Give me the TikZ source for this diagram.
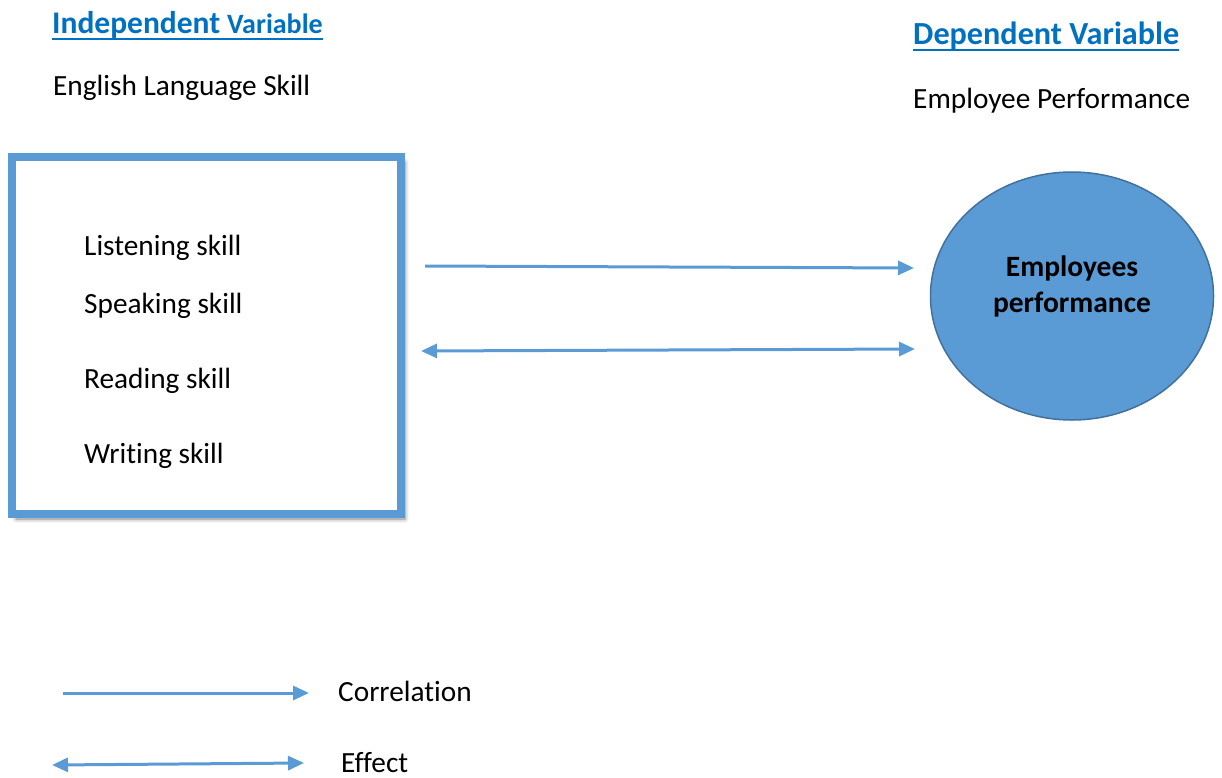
\documentclass[tikz,border=0pt]{standalone}
\usepackage{fontspec}
\setmainfont{Carlito}[Ligatures=NoCommon]
\usetikzlibrary{arrows.meta,shapes.geometric,shadows.blur}
\definecolor{accent}{HTML}{5B9BD5}
\definecolor{headblue}{HTML}{0070C0}
\definecolor{ellborder}{HTML}{41719C}
\tikzset{
  txt/.style={anchor=base west, inner sep=0pt, font=\fontsize{29.3}{35}\selectfont},
  head/.style={anchor=base west, inner sep=0pt, text=headblue, font=\bfseries},
  uline/.style={draw=headblue, line width=2.6pt},
  skillbox/.style={draw=accent, line width=8pt, fill=white, minimum width=389pt, minimum height=357pt,
    blur shadow={shadow xshift=4pt, shadow yshift=-5pt, shadow blur radius=4pt, shadow opacity=50}},
  perfnode/.style={ellipse, draw=ellborder, line width=1.5pt, fill=accent, minimum width=283pt, minimum height=248pt},
  perftext/.style={align=center, inner sep=0pt, font=\bfseries\fontsize{29.5}{36}\selectfont},
  conn/.style={draw=accent, line width=3pt},
  tip/.style={-{Triangle[length=16pt,width=14pt]}},
  dtip/.style={{Triangle[length=16pt,width=14pt]}-{Triangle[length=16pt,width=14pt]}},
}
\begin{document}
\begin{tikzpicture}[x=1pt,y=-1pt]
\useasboundingbox (0,0) rectangle (1222,778);
% headings
\node[head] (indep) at (52,34) {{\fontsize{31.5}{36}\selectfont Independent}\hspace{7pt}{\fontsize{28}{34}\selectfont Variable}};
\draw[uline] ([yshift=-5pt]indep.base west) -- ([yshift=-5pt]indep.base east);
\node[txt] (eng) at (53,96) {English Language Skill};
\node[head] (dep) at (913,45) {\fontsize{32.2}{36}\selectfont Dependent Variable};
\draw[uline] ([yshift=-5pt]dep.base west) -- ([yshift=-5pt]dep.base east);
\node[txt] (emp) at (913,109) {Employee Performance};
% box
\node[skillbox] (box) at (206.5,335.5) {};
\node[txt] (l1) at (84,255) {Listening skill};
\node[txt] (l2) at (84,313) {Speaking skill};
\node[txt] (l3) at (84,388) {Reading skill};
\node[txt] (l4) at (84,463) {Writing skill};
% ellipse
\node[perfnode] (perf) at (1072,296) {};
\node[perftext] (perflabel) at (1072,286) {Employees\\performance};
% connectors
\coordinate (c1s) at (425,266);
\coordinate (c1e) at (914,268);
\coordinate (c2s) at (421,351);
\coordinate (c2e) at (915,349);
\draw[conn,tip] (c1s) -- (c1e);
\draw[conn,dtip] (c2s) -- (c2e);
% legend
\coordinate (k1s) at (63,693);
\coordinate (k1e) at (309,693);
\coordinate (k2s) at (52,765);
\coordinate (k2e) at (304,763);
\draw[conn,tip] (k1s) -- (k1e);
\draw[conn,dtip] (k2s) -- (k2e);
\node[txt] (lc) at (338,701) {Correlation};
\node[txt] (le) at (341,772) {Effect};
\end{tikzpicture}
\end{document}
